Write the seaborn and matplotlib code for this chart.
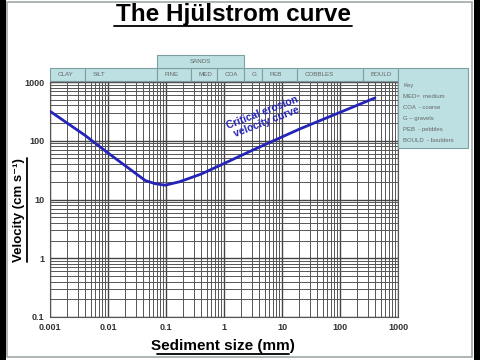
import matplotlib
matplotlib.use("Agg")
import matplotlib.pyplot as plt
import matplotlib.transforms as mtransforms
from matplotlib.patches import Rectangle
from matplotlib.lines import Line2D
from matplotlib.ticker import LogLocator, NullFormatter, FixedLocator, FixedFormatter
import seaborn as sns
import pandas as pd

# ---- data ----
size_mm = [0.001, 0.004, 0.01, 0.044, 0.065, 0.096, 0.17, 0.4, 0.85, 3, 20, 400]
velocity = [318, 124, 62, 21, 18.6, 17.5, 20, 27, 38, 68, 158, 535]

x_ticks = [0.001, 0.01, 0.1, 1, 10, 100, 1000]
x_tick_labels = ["0.001", "0.01", "0.1", "1", "10", "100", "1000"]
y_ticks = [0.1, 1, 10, 100, 1000]
y_tick_labels = ["0.1", "1", "10", "100", "1000"]

band_names = ["CLAY", "SILT", "FINE", "MED", "COA", "G", "PEB", "COBBLES", "BOULD"]
band_edges = [0.001, 0.004, 0.07, 0.27, 0.75, 2.2, 4.5, 18, 250, 1000]
group_name = "SANDS"
group_edges = [0.07, 2.2]
key_lines = ["Key", "MED=  medium", "COA  - coarse", "G \u2013 gravels", "PEB  - pebbles", "BOULD  - boulders"]

df = pd.DataFrame({"size": size_mm, "vel": velocity})

sns.set_theme(style="white")
plt.rcParams["font.family"] = ["Liberation Sans", "DejaVu Sans"]

W, H = 480, 360
fig = plt.figure(figsize=(4.8, 3.6), dpi=100)
fig.patch.set_facecolor("white")

L, R, T, B = 50, 398, 82, 317
ax = fig.add_axes([L / W, 1 - B / H, (R - L) / W, (B - T) / H])

sns.lineplot(data=df, x="size", y="vel", ax=ax, sort=False, color="#2424b8",
             linewidth=2.0, zorder=5)
ax.set_xscale("log")
ax.set_yscale("log")
ax.set_xlim(0.001, 1000)
ax.set_ylim(0.1, 1000)

ax.xaxis.set_major_locator(FixedLocator(x_ticks))
ax.xaxis.set_major_formatter(FixedFormatter(x_tick_labels))
ax.yaxis.set_major_locator(FixedLocator(y_ticks))
ax.yaxis.set_major_formatter(FixedFormatter(y_tick_labels))
ax.xaxis.set_minor_locator(LogLocator(base=10, subs=range(2, 10), numticks=20))
ax.yaxis.set_minor_locator(LogLocator(base=10, subs=range(2, 10), numticks=20))
ax.xaxis.set_minor_formatter(NullFormatter())
ax.yaxis.set_minor_formatter(NullFormatter())
ax.tick_params(which="both", length=0)
ax.tick_params(axis="both", labelsize=6.5, colors="#333333", pad=4)
for lab in ax.get_xticklabels() + ax.get_yticklabels():
    lab.set_fontweight("bold")
ax.grid(True, which="major", color="#444444", linewidth=1.0)
ax.grid(True, which="minor", color="#555555", linewidth=0.7)
for s in ax.spines.values():
    s.set_color("#555555")
    s.set_linewidth(0.8)
ax.set_xlabel("")
ax.set_ylabel("")

ax.text(5.0, 250, "Critical erosion\nvelocity curve", color="#2424b8", fontsize=7.5,
        fontweight="bold", rotation=21, ha="center", va="center",
        linespacing=1.0, zorder=6)

# ---- header bands ----
trans = mtransforms.blended_transform_factory(ax.transData, ax.transAxes)
axh = B - T
row_lo = 1 + 1 / axh
row_hi = 1 + 14 / axh
band_fc = "#bde0e2"
band_ec = "#7f9fa2"
for name, x0, x1 in zip(band_names, band_edges[:-1], band_edges[1:]):
    ax.add_patch(Rectangle((x0, row_lo), x1 - x0, row_hi - row_lo, transform=trans,
                           facecolor=band_fc, edgecolor=band_ec, linewidth=0.8,
                           clip_on=False))
    ax.text(x0 * 1.35, (row_lo + row_hi) / 2, name, transform=trans, fontsize=4.5,
            color="#666666", ha="left", va="center", clip_on=False)
g0, g1 = group_edges
ax.add_patch(Rectangle((g0, row_hi), g1 - g0, 13 / axh, transform=trans,
                       facecolor=band_fc, edgecolor=band_ec, linewidth=0.8,
                       clip_on=False))
ax.text((g0 * g1) ** 0.5, row_hi + 6.5 / axh, group_name, transform=trans,
        fontsize=4.5, color="#666666", ha="center", va="center", clip_on=False)

def fx(px):
    return px / W

def fy(py):
    return 1 - py / H

fig.add_artist(Rectangle((fx(398), fy(148)), (468 - 398) / W, (148 - 68) / H,
                         transform=fig.transFigure, facecolor=band_fc,
                         edgecolor=band_ec, linewidth=0.8))
for i, line in enumerate(key_lines):
    fig.text(fx(403), fy(85 + i * 11.2), line, fontsize=4.3, color="#666666",
             ha="left", va="center")

# ---- titles ----
def underlined(x, y, text, size, rotation=0, ul_off=0.0, half=0.0):
    t = fig.text(fx(x), fy(y), text, fontsize=size, fontweight="bold",
                 ha="center", va="center", rotation=rotation, color="black",
                 family=["Liberation Sans", "DejaVu Sans"])
    if rotation == 0:
        fig.add_artist(Line2D([fx(x - half), fx(x + half)], [fy(y + ul_off)] * 2,
                              color="black", linewidth=1.3, transform=fig.transFigure))
    else:
        fig.add_artist(Line2D([fx(x + ul_off)] * 2, [fy(y - half), fy(y + half)],
                              color="black", linewidth=1.3, transform=fig.transFigure))
    return t

underlined(233, 15, "The Hj\u00fclstrom curve", 17.5, ul_off=11, half=119)
underlined(223, 346, "Sediment size (mm)", 11, ul_off=8, half=66)
underlined(19, 210, "Velocity (cm s\u207b\u00b9)", 9.5, rotation=90, ul_off=8, half=52)

# ---- slide frame ----
fig.add_artist(Rectangle((0, 0), 6 / W, 1, transform=fig.transFigure,
                         facecolor="black", edgecolor="none"))
fig.add_artist(Rectangle((474 / W, 0), 6 / W, 1, transform=fig.transFigure,
                         facecolor="black", edgecolor="none"))
fig.add_artist(Rectangle((fx(6.5), fy(357)), (472 - 6.5) / W, (357 - 2) / H,
                         transform=fig.transFigure, facecolor="none",
                         edgecolor="#a0a8a8", linewidth=1.2))

fig.savefig("out.png", dpi=100)
